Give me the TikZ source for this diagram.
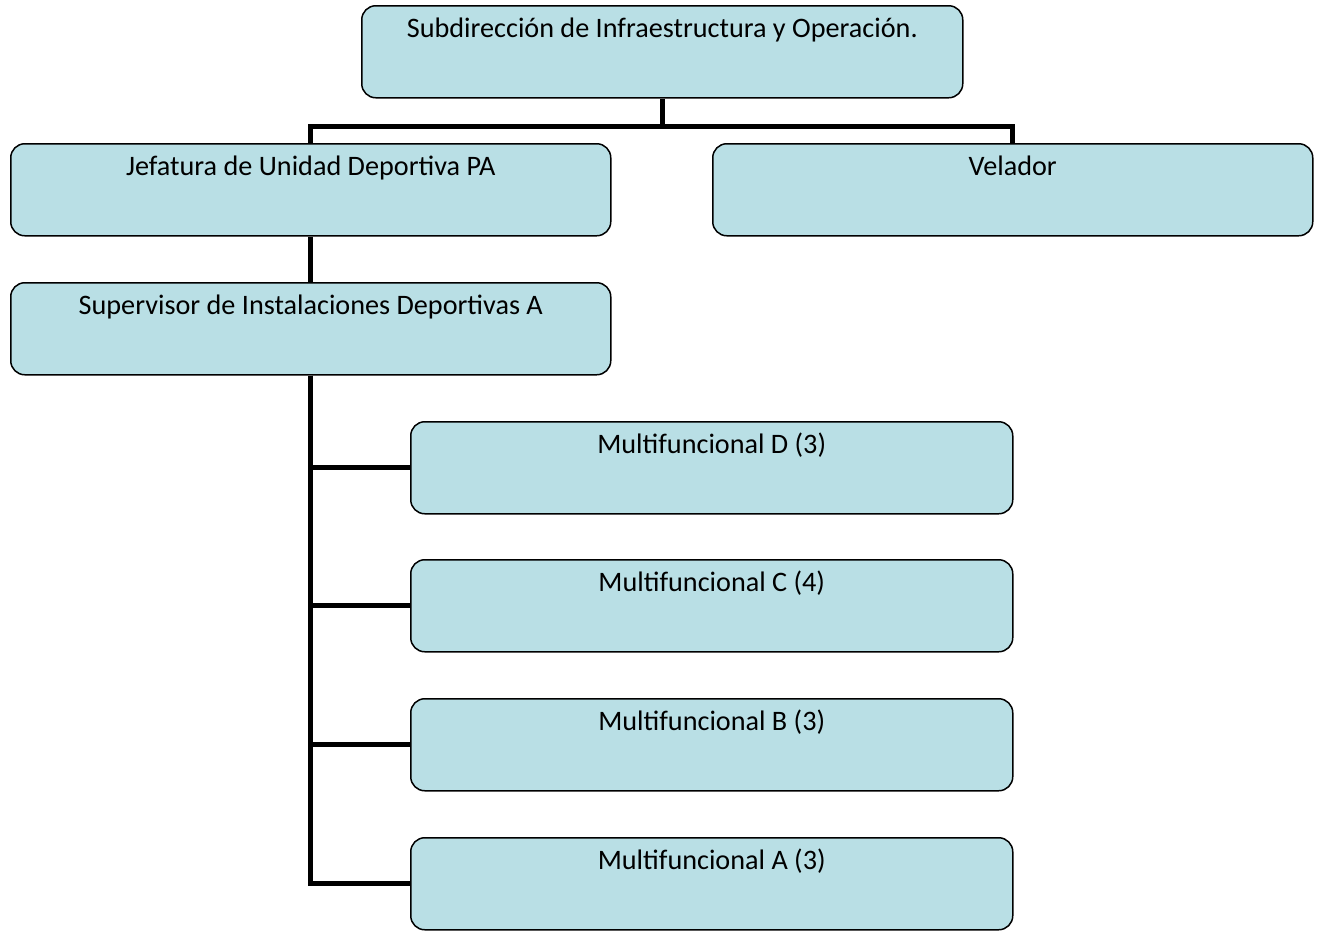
\documentclass[tikz,border=0pt]{standalone}
\usepackage{fontspec}
\setmainfont{Carlito}
\usetikzlibrary{calc}
\definecolor{boxfill}{HTML}{B9DFE5}
\begin{document}
\begin{tikzpicture}[x=1pt,y=-1pt,
  orgbox/.style={draw=black, line width=1.5pt, fill=boxfill, rounded corners=14pt,
    inner sep=0pt, minimum width=600pt, text height=32pt, text depth=60pt,
    anchor=north west, font=\fontsize{28.2}{32}\selectfont},
  link/.style={draw=black, line width=5pt}]
\useasboundingbox (0,0) rectangle (1317,930);
\node[orgbox, minimum width=601pt] (top) at (361,5) {Subdirección de Infraestructura y Operación.};
\node[orgbox] (jef) at (10,143) {Jefatura de Unidad Deportiva PA};
\node[orgbox] (vel) at (712,143) {Velador};
\node[orgbox] (sup) at (10,282) {Supervisor de Instalaciones Deportivas A};
\node[orgbox, minimum width=602pt] (md) at (410,421) {Multifuncional D (3)};
\node[orgbox, minimum width=602pt] (mc) at (410,559) {Multifuncional C (4)};
\node[orgbox, minimum width=602pt] (mb) at (410,698) {Multifuncional B (3)};
\node[orgbox, minimum width=602pt] (ma) at (410,837) {Multifuncional A (3)};
\coordinate (bar) at ($(top.south)+(0,28)$);
\draw[link] (top.south) -- (bar);
\draw[link] (bar) -| (jef.north);
\draw[link] (bar) -| (vel.north);
\draw[link] (jef.south) -- (sup.north);
\draw[link] (sup.south) |- (md.west);
\draw[link] (sup.south) |- (mc.west);
\draw[link] (sup.south) |- (mb.west);
\draw[link] (sup.south) |- (ma.west);
\end{tikzpicture}
\end{document}
